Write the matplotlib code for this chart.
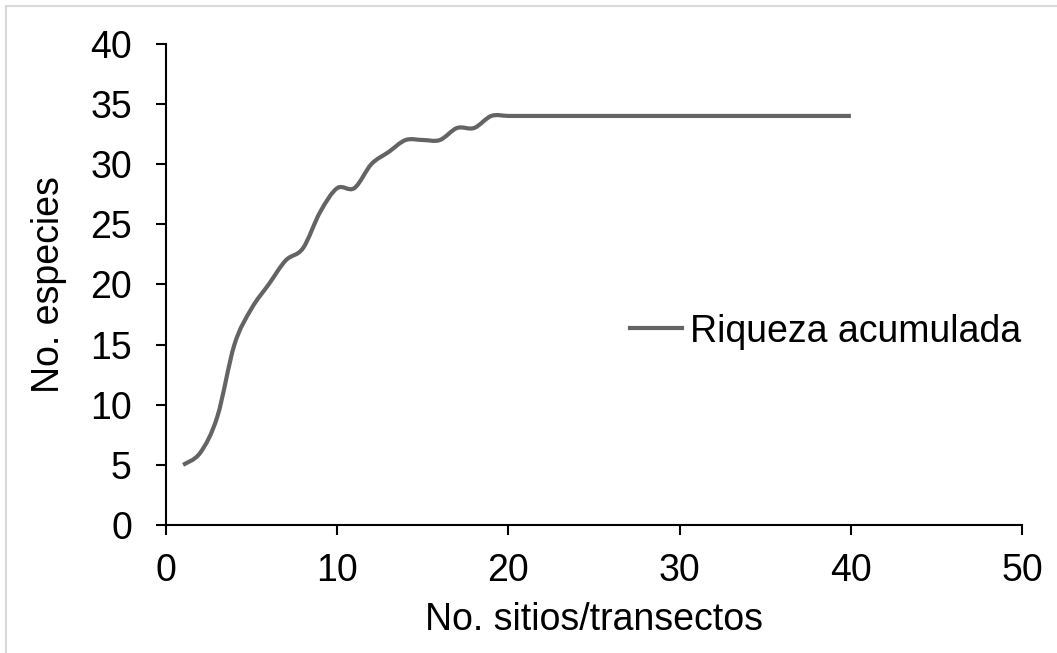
import matplotlib.pyplot as plt
import numpy as np
from matplotlib.path import Path
from matplotlib.patches import PathPatch, Rectangle
from matplotlib.lines import Line2D

plt.rcParams['font.family'] = ['Liberation Sans', 'DejaVu Sans']

# Accumulated species richness per site/transect
sitios = list(range(1, 41))
especies = [5, 6, 9, 15, 18, 20, 22, 23, 26, 28,
            28, 30, 31, 32, 32, 32, 33, 33, 34, 34,
            34, 34, 34, 34, 34, 34, 34, 34, 34, 34,
            34, 34, 34, 34, 34, 34, 34, 34, 34, 34]

line_color = '#646464'
fs = 27

fig = plt.figure(figsize=(10.57, 6.53), dpi=100)
ax = fig.add_axes([0.157, 0.196, 0.81, 0.737])

# smoothed line like a spreadsheet "smooth line" (cubic Bezier, Catmull-Rom style)
pts = np.column_stack([sitios, especies]).astype(float)
n = len(pts)
verts = [pts[0]]
codes = [Path.MOVETO]
for i in range(n - 1):
    p0 = pts[max(i - 1, 0)]
    p1 = pts[i]
    p2 = pts[i + 1]
    p3 = pts[min(i + 2, n - 1)]
    c1 = p1 + (p2 - p0) / 6.0
    c2 = p2 - (p3 - p1) / 6.0
    verts += [c1, c2, p2]
    codes += [Path.CURVE4] * 3
ax.add_patch(PathPatch(Path(verts, codes), facecolor='none',
                       edgecolor=line_color, linewidth=3, capstyle='butt'))

ax.set_xlim(0, 50)
ax.set_ylim(0, 40)
ax.set_xticks(np.arange(0, 51, 10))
ax.set_yticks(np.arange(0, 41, 5))
ax.spines['top'].set_visible(False)
ax.spines['right'].set_visible(False)
for s in ['left', 'bottom']:
    ax.spines[s].set_linewidth(1.5)
ax.tick_params(axis='both', direction='out', length=7.5, width=1.5,
               labelsize=fs)
ax.tick_params(axis='x', pad=13)
ax.tick_params(axis='y', pad=17)

ax.set_xlabel('No. sitios/transectos', fontsize=fs, labelpad=9)
ax.set_ylabel('No. especies', fontsize=fs, labelpad=17)

handle = Line2D([], [], color=line_color, linewidth=3)
ax.legend([handle], ['Riqueza acumulada'], loc='center left',
          bbox_to_anchor=(0.524, 0.402), frameon=False, fontsize=fs,
          handlelength=1.4, handletextpad=0.2, borderaxespad=0)

# thin grey frame of the original chart area
fig.patches.append(Rectangle((6 / 1057, -0.5), 2, 1.5 - 6 / 653,
                             transform=fig.transFigure, fill=False,
                             edgecolor='#d9d9d9', linewidth=1.5))

plt.savefig('out.png', dpi=100)
plt.close()
